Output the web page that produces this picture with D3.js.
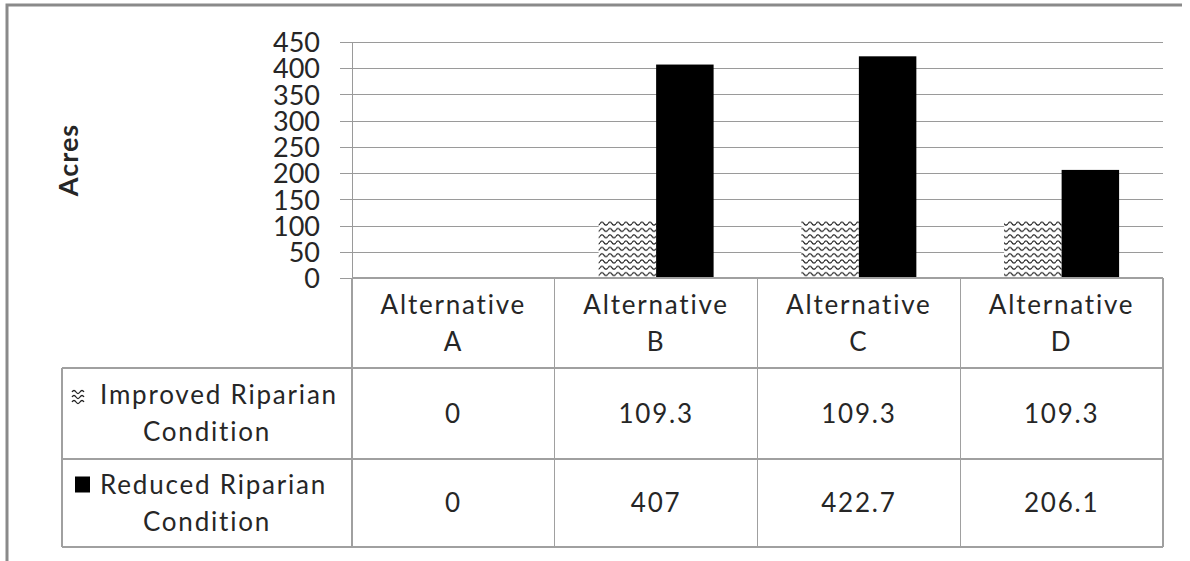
<!DOCTYPE html>
<html><head><meta charset="utf-8">
<script src="https://cdn.jsdelivr.net/npm/d3@7"></script>
<style>
html,body{margin:0;padding:0;background:#fff;}
svg{display:block;}
text{font-family:Lato, "Open Sans", sans-serif; fill:#262626;}
</style></head>
<body>
<svg id="chart" width="1190" height="561"></svg>
<script>
const categories = ["Alternative A","Alternative B","Alternative C","Alternative D"];
const categoryLines = [["Alternative","A"],["Alternative","B"],["Alternative","C"],["Alternative","D"]];
const seriesNames = ["Improved Riparian Condition","Reduced Riparian Condition"];
const seriesLines = [["Improved Riparian","Condition"],["Reduced Riparian","Condition"]];
const improved = [0, 109.3, 109.3, 109.3];
const reduced = [0, 407, 422.7, 206.1];
const improvedLabels = ["0","109.3","109.3","109.3"];
const reducedLabels = ["0","407","422.7","206.1"];
const yTicks = [0,50,100,150,200,250,300,350,400,450];
const yTitle = "Acres";

const svg = d3.select("#chart");
const L = 352, R = 1163, T = 42, B = 278;
const tableLeft = 62;
const rowBounds = [B, 368, 459, 547];
const gridColor = "#9a9a9a";

const defs = svg.append("defs");
const pat = defs.append("pattern").attr("id","wave").attr("patternUnits","userSpaceOnUse")
  .attr("width",8).attr("height",6.3);
pat.append("rect").attr("width",8).attr("height",6.3).attr("fill","#fff");
pat.append("path").attr("d","M0,3.2 Q2,0.2 4,3.2 T8,3.2")
  .attr("fill","none").attr("stroke","#111").attr("stroke-width",1.1);

const y = d3.scaleLinear().domain([0,450]).range([B,T]);
const x0 = d3.scaleBand().domain(categories).range([L,R]).paddingInner(0.433).paddingOuter(0.2165);
const x1 = d3.scaleBand().domain(seriesNames).range([0,x0.bandwidth()]).padding(0);

// outer frame
svg.append("path").attr("d","M7,561 L7,5 L1182,5").attr("fill","none").attr("stroke","#8a8a8a").attr("stroke-width",3);

// grid
svg.append("g").attr("transform",`translate(${L},0)`)
  .call(d3.axisLeft(y).tickValues(yTicks).tickSize(-(R-L)).tickFormat(""))
  .call(g=>g.select(".domain").remove())
  .call(g=>g.selectAll("line").attr("stroke",gridColor).attr("shape-rendering","crispEdges"));

// axis ticks + labels
svg.append("g").attr("transform",`translate(${L},0)`)
  .call(d3.axisLeft(y).tickValues(yTicks).tickSize(12).tickSizeOuter(0).tickPadding(20))
  .call(g=>g.select(".domain").attr("stroke",gridColor))
  .call(g=>g.selectAll("line").attr("stroke",gridColor).attr("shape-rendering","crispEdges"))
  .call(g=>g.selectAll("text").attr("font-size",27).attr("font-family","Lato, sans-serif").attr("fill","#262626").attr("dy","0.36em"));

// y title
svg.append("text").attr("transform","translate(78,160) rotate(-90)").attr("text-anchor","middle")
  .attr("font-size",27).attr("font-weight","bold").attr("fill","#111").attr("letter-spacing",1).text(yTitle);

// bars
const data = categories.map((c,i)=>({c, vals:[{s:seriesNames[0],v:improved[i]},{s:seriesNames[1],v:reduced[i]}]}));
const gb = svg.append("g");
data.forEach(d=>{
  d.vals.forEach((e,j)=>{
    if(e.v<=0) return;
    gb.append("rect").attr("x",x0(d.c)+x1(e.s)).attr("width",x1.bandwidth())
      .attr("y",y(e.v)).attr("height",y(0)-y(e.v))
      .attr("fill", j===0 ? "url(#wave)" : "#000");
  });
});

// table lines
const tl = svg.append("g").attr("stroke","#a0a0a0").attr("stroke-width",1.2).attr("shape-rendering","crispEdges");
tl.append("line").attr("x1",L).attr("x2",R).attr("y1",B).attr("y2",B);
[1,2,3].forEach(k=>tl.append("line").attr("x1",tableLeft).attr("x2",R).attr("y1",rowBounds[k]).attr("y2",rowBounds[k]));
tl.append("line").attr("x1",tableLeft).attr("x2",tableLeft).attr("y1",rowBounds[1]).attr("y2",rowBounds[3]);
const colEdges = [L].concat(categories.map(c=>x0(c)+x0.bandwidth()+x0.step()*0.2165));
colEdges[colEdges.length-1]=R;
colEdges.forEach(xe=>tl.append("line").attr("x1",xe).attr("x2",xe).attr("y1",B).attr("y2",rowBounds[3]));

const fs = 26, lh = 37, cap = 18, ls = 1.8;
function twoLines(cx, cy, lines){
  const top = cy - (lh+cap)/2;
  lines.forEach((t,i)=>{
    svg.append("text").attr("x",cx).attr("y",top+cap+i*lh).attr("text-anchor","middle")
      .attr("font-size",fs).attr("letter-spacing",ls).text(t);
  });
}
// header
categories.forEach((c,i)=>{
  const cx = x0(c)+x0.bandwidth()/2;
  twoLines(cx,(rowBounds[0]+rowBounds[1])/2,categoryLines[i]);
});
// row labels
const labCx = (tableLeft+L)/2;
[0,1].forEach(r=>{
  const cy=(rowBounds[r+1]+rowBounds[r+2])/2;
  const top = cy-(lh+cap)/2;
  svg.append("text").attr("x",100).attr("y",top+cap).attr("text-anchor","start").attr("font-size",fs).attr("letter-spacing",ls).text(seriesLines[r][0]);
  if(r===0){
    const ig = svg.append("g").attr("transform",`translate(72,${top+3})`);
    [0,1,2].forEach(k=>{
      ig.append("path").attr("d",`M0,${3+k*5} q2,-3 4,0 t4,0 t4,0`)
        .attr("fill","none").attr("stroke","#222").attr("stroke-width",1.3);
    });
  } else {
    svg.append("rect").attr("x",75).attr("y",top+1).attr("width",15).attr("height",16).attr("fill","#000");
  }
  svg.append("text").attr("x",labCx).attr("y",top+cap+lh).attr("text-anchor","middle").attr("font-size",fs).attr("letter-spacing",ls).text(seriesLines[r][1]);
});
// values
[improvedLabels,reducedLabels].forEach((arr,r)=>{
  const cy=(rowBounds[r+1]+rowBounds[r+2])/2;
  arr.forEach((t,i)=>{
    svg.append("text").attr("x",x0(categories[i])+x0.bandwidth()/2).attr("y",cy+cap/2).attr("text-anchor","middle").attr("font-size",fs).attr("letter-spacing",ls).text(t);
  });
});
</script>
</body></html>
